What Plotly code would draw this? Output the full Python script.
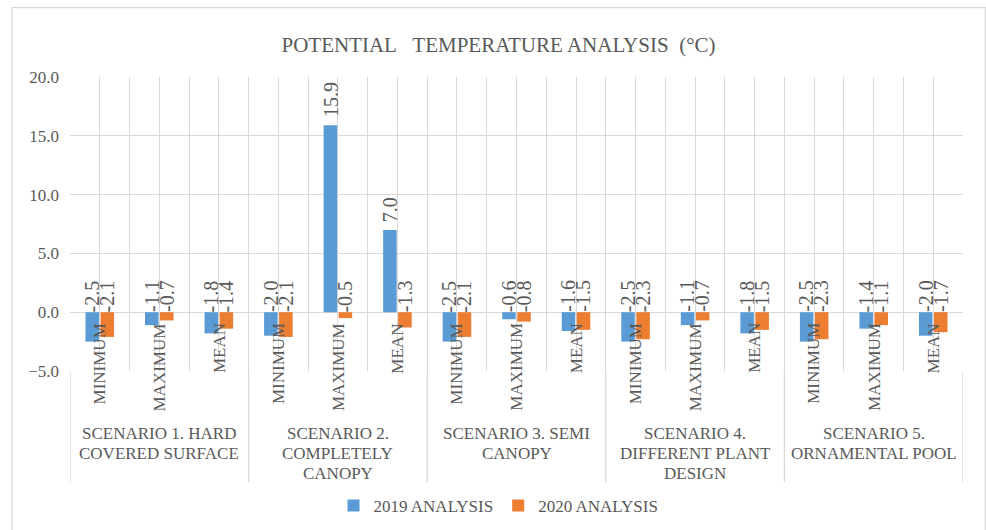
import plotly.graph_objects as go

# ---- data -------------------------------------------------------------
scenarios = [
    ["SCENARIO 1. HARD", "COVERED SURFACE"],
    ["SCENARIO 2.", "COMPLETELY", "CANOPY"],
    ["SCENARIO 3. SEMI", "CANOPY"],
    ["SCENARIO 4.", "DIFFERENT PLANT", "DESIGN"],
    ["SCENARIO 5.", "ORNAMENTAL POOL"],
]
measures = ["MINIMUM", "MAXIMUM", "MEAN"]
series_names = ["2019 ANALYSIS", "2020 ANALYSIS"]
values_2019 = [-2.5, -1.1, -1.8, -2.0, 15.9, 7.0, -2.5, -0.6, -1.6,
               -2.5, -1.1, -1.8, -2.5, -1.4, -2.0]
values_2020 = [-2.1, -0.7, -1.4, -2.1, -0.5, -1.3, -2.1, -0.8, -1.5,
               -2.3, -0.7, -1.5, -2.3, -1.1, -1.7]
y_ticks = [-5, 0, 5, 10, 15, 20]

# ---- styling ----------------------------------------------------------
W, H = 986, 530
PL, PR, PT, PB = 70, 962.7, 76.5, 370.7      # plot area edges (px)
FONT = "Liberation Serif, Times New Roman, serif"
TXT = "#595959"
GRID = "#D9D9D9"
COLORS = ["#5B9BD5", "#ED7D31"]
BARGAP, GROUPGAP = 0.495, 0.1
GROUP_LINE1, GROUP_LINE_STEP = 433, 20        # group label rows (px)


def paper_y(p):
    return (PB - p) / (PB - PT)


def paper_x(p):
    return (p - PL) / (PR - PL)


n_cat = len(scenarios) * len(measures)
xs = list(range(n_cat))
sub_labels = [measures[i % len(measures)] for i in xs]

fig = go.Figure()
for name, vals, col in zip(series_names, [values_2019, values_2020], COLORS):
    fig.add_trace(go.Bar(x=xs, y=vals, name=name, marker_color=col,
                         marker_line_width=0))

annotations = []
# value labels, rotated, sitting on the zero line or above positive bars
slot = (1 - BARGAP) / 2
for k, vals in enumerate([values_2019, values_2020]):
    off = (k - 0.5) * slot
    for i, v in zip(xs, vals):
        annotations.append(dict(
            x=i + off, y=max(v, 0), xref="x", yref="y",
            text=f"{v:.1f}", textangle=-90, showarrow=False,
            xanchor="center", yanchor="bottom",
            yshift=6 if v > 0 else -2,
            font=dict(family=FONT, size=20, color=TXT)))

# inner category labels next to the zero line
for i, lab in zip(xs, sub_labels):
    annotations.append(dict(
        x=i, y=0, xref="x", yref="y", text=lab, textangle=-90,
        showarrow=False, xanchor="center", yanchor="top", yshift=-9,
        font=dict(family=FONT, size=17, color=TXT)))

# outer group labels, one row per line
for s, lines in enumerate(scenarios):
    xc = s * len(measures) + (len(measures) - 1) / 2
    for r, line in enumerate(lines):
        annotations.append(dict(
            x=xc, y=paper_y(GROUP_LINE1 + r * GROUP_LINE_STEP),
            xref="x", yref="paper", text=line, showarrow=False,
            xanchor="center", yanchor="middle",
            font=dict(family=FONT, size=17, color=TXT)))

shapes = []
# group dividers below the plot area
for s in range(len(scenarios) + 1):
    shapes.append(dict(
        type="line", xref="x", yref="paper",
        x0=s * len(measures) - 0.5, x1=s * len(measures) - 0.5,
        y0=0, y1=paper_y(482), line=dict(color=GRID, width=1.3)))
# chart border
shapes.append(dict(
    type="rect", xref="paper", yref="paper",
    x0=paper_x(12), x1=paper_x(985), y0=paper_y(532), y1=paper_y(7),
    line=dict(color=GRID, width=1.3), layer="below"))

fig.update_layout(
    width=W, height=H,
    margin=dict(l=PL, r=W - PR, t=PT, b=H - PB, pad=0),
    paper_bgcolor="white", plot_bgcolor="white",
    barmode="group", bargap=BARGAP, bargroupgap=GROUPGAP,
    font=dict(family=FONT, size=17, color=TXT),
    title=dict(text="POTENTIAL\u00a0\u00a0 TEMPERATURE ANALYSIS\u00a0 (°C)",
               x=498.5 / W, xref="container", xanchor="center",
               y=1 - 45 / H, yref="container", yanchor="middle",
               font=dict(family=FONT, size=21, color=TXT)),
    xaxis=dict(range=[-0.5, n_cat - 0.5], tick0=-0.5, dtick=0.5,
               showticklabels=False, showgrid=True, gridcolor=GRID,
               gridwidth=1.3, zeroline=False, showline=False, ticks=""),
    yaxis=dict(range=[y_ticks[0], y_ticks[-1]], tickvals=y_ticks,
               tickformat=".1f", showgrid=True, gridcolor=GRID,
               gridwidth=1.3, zeroline=True, zerolinecolor=GRID,
               zerolinewidth=1.3, showline=False, ticks="",
               ticklabelstandoff=10,
               tickfont=dict(family=FONT, size=17, color=TXT)),
    legend=dict(orientation="h", xref="container", yref="container",
                x=498.5 / W, xanchor="center", y=1 - 506 / H,
                yanchor="middle", itemwidth=30,
                font=dict(family=FONT, size=17, color=TXT)),
    annotations=annotations, shapes=shapes,
)

fig.write_html("out.html")
